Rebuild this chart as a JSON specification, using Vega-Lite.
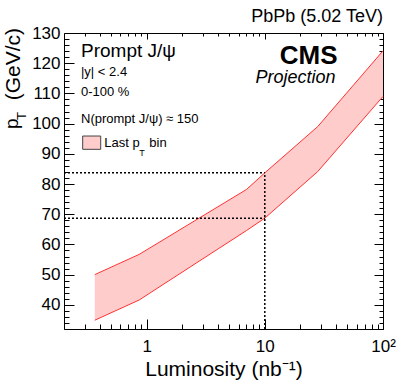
{
  "$schema": "https://vega.github.io/schema/vega-lite/v6.json",
  "width": 319,
  "height": 296,
  "autosize": "none",
  "padding": {"left": 64, "top": 33, "right": 16, "bottom": 54},
  "config": {
    "font": "Liberation Sans",
    "view": {"stroke": "#000", "strokeWidth": 1},
    "axis": {"grid": false, "domain": false, "tickColor": "#000", "tickWidth": 1, "labelColor": "#000", "labelFont": "Liberation Sans", "titleFont": "Liberation Sans"}
  },
  "datasets": {
    "band": [
      {"lumi": 0.364, "lo": 34.9, "hi": 50.0},
      {"lumi": 0.865, "lo": 41.6, "hi": 56.7},
      {"lumi": 7, "lo": 64.6, "hi": 78.2},
      {"lumi": 10, "lo": 68.7, "hi": 83.7},
      {"lumi": 28, "lo": 84.1, "hi": 99.0},
      {"lumi": 100, "lo": 109.0, "hi": 124.1}
    ],
    "guides": [
      {"xa": 0.2, "xb": 10, "ya": 83.7, "yb": 83.7},
      {"xa": 0.2, "xb": 10, "ya": 68.7, "yb": 68.7},
      {"xa": 10, "xb": 10, "ya": 32, "yb": 83.7}
    ]
  },
  "resolve": {"scale": {"x": "shared", "y": "shared"}, "axis": {"x": "independent", "y": "independent"}},
  "layer": [
    {
      "data": {"name": "band"},
      "mark": {"type": "area", "color": "#ffcccc", "opacity": 1},
      "encoding": {
        "x": {"field": "lumi", "type": "quantitative",
          "scale": {"type": "log", "domain": [0.2, 100], "nice": false},
          "axis": {"orient": "bottom", "values": [1, 10, 100], "ticks": false, "labelExpr": "datum.value == 100 ? '10²' : datum.value == 10 ? '10' : '1'", "labelFontSize": 17, "labelPadding": 9, "labelFlush": false, "labelOverlap": false, "labelBound": false,
            "title": "Luminosity (nb⁻¹)", "titleFontSize": 21, "titleFontWeight": "normal", "titleColor": "#000", "titleBaseline": "alphabetic", "titleY": 46}},
        "y": {"field": "lo", "type": "quantitative",
          "scale": {"domain": [32, 130], "nice": false, "zero": false},
          "axis": {"orient": "left", "values": [40, 50, 60, 70, 80, 90, 100, 110, 120, 130], "ticks": false, "labelFontSize": 17, "labelPadding": 4, "labelFlush": false, "labelOverlap": false, "title": null}},
        "y2": {"field": "hi"}
      }
    },
    {
      "data": {"name": "band"},
      "mark": {"type": "line", "color": "#ff3333", "strokeWidth": 1},
      "encoding": {
        "x": {"field": "lumi", "type": "quantitative", "axis": {"orient": "bottom", "values": [1, 10, 100], "labels": false, "tickSize": -10, "title": null}},
        "y": {"field": "hi", "type": "quantitative", "axis": {"orient": "left", "values": [40, 50, 60, 70, 80, 90, 100, 110, 120, 130], "labels": false, "tickSize": -10, "title": null}}
      }
    },
    {
      "data": {"name": "band"},
      "mark": {"type": "line", "color": "#ff3333", "strokeWidth": 1},
      "encoding": {
        "x": {"field": "lumi", "type": "quantitative", "axis": {"orient": "bottom", "values": [0.3, 0.4, 0.5, 0.6, 0.7, 0.8, 0.9, 2, 3, 4, 5, 6, 7, 8, 9, 20, 30, 40, 50, 60, 70, 80, 90], "labels": false, "tickSize": -5, "title": null}},
        "y": {"field": "lo", "type": "quantitative", "axis": {"orient": "left", "values": [32, 34, 36, 38, 42, 44, 46, 48, 52, 54, 56, 58, 62, 64, 66, 68, 72, 74, 76, 78, 82, 84, 86, 88, 92, 94, 96, 98, 102, 104, 106, 108, 112, 114, 116, 118, 122, 124, 126, 128], "labels": false, "tickSize": -5, "title": null}}
      }
    },
    {
      "data": {"name": "guides"},
      "mark": {"type": "rule", "color": "#000", "strokeWidth": 1.5, "strokeDash": [2, 2]},
      "encoding": {
        "x": {"field": "xa", "type": "quantitative", "axis": {"orient": "top", "values": [1, 10, 100], "labels": false, "tickSize": -6, "title": null}},
        "x2": {"field": "xb"},
        "y": {"field": "ya", "type": "quantitative", "axis": {"orient": "right", "values": [40, 50, 60, 70, 80, 90, 100, 110, 120, 130], "labels": false, "tickSize": -9, "title": null}},
        "y2": {"field": "yb"}
      }
    },
    {
      "data": {"values": [{}]},
      "mark": {"type": "rect", "fill": "#ffcccc", "stroke": "#444", "strokeWidth": 1},
      "encoding": {
        "x": {"datum": 0.2878, "type": "quantitative", "axis": {"orient": "top", "values": [0.3, 0.4, 0.5, 0.6, 0.7, 0.8, 0.9, 2, 3, 4, 5, 6, 7, 8, 9, 20, 30, 40, 50, 60, 70, 80, 90], "labels": false, "tickSize": -3, "title": null}},
        "x2": {"datum": 0.4089},
        "y": {"datum": 95.89, "type": "quantitative", "axis": {"orient": "right", "values": [32, 34, 36, 38, 42, 44, 46, 48, 52, 54, 56, 58, 62, 64, 66, 68, 72, 74, 76, 78, 82, 84, 86, 88, 92, 94, 96, 98, 102, 104, 106, 108, 112, 114, 116, 118, 122, 124, 126, 128], "labels": false, "tickSize": -4, "title": null}},
        "y2": {"datum": 91.49}
      }
    },
    {"data": {"values": [{}]}, "mark": {"type": "text", "text": "PbPb (5.02 TeV)", "align": "right", "baseline": "alphabetic", "fontSize": 18, "color": "#000"},
      "encoding": {"x": {"datum": 100, "type": "quantitative", "axis": null}, "y": {"datum": 133.64, "type": "quantitative", "axis": null}}},
    {"data": {"values": [{}]}, "mark": {"type": "text", "text": "CMS", "align": "right", "baseline": "alphabetic", "fontSize": 26, "fontWeight": "bold", "color": "#000"},
      "encoding": {"x": {"datum": 41.2, "type": "quantitative", "axis": null}, "y": {"datum": 119.74, "type": "quantitative", "axis": null}}},
    {"data": {"values": [{}]}, "mark": {"type": "text", "text": "Projection", "align": "right", "baseline": "alphabetic", "fontSize": 18, "fontStyle": "italic", "color": "#000"},
      "encoding": {"x": {"datum": 39.6, "type": "quantitative", "axis": null}, "y": {"datum": 113.35, "type": "quantitative", "axis": null}}},
    {"data": {"values": [{}]}, "mark": {"type": "text", "text": "Prompt J/ψ", "align": "left", "baseline": "alphabetic", "fontSize": 19, "color": "#000"},
      "encoding": {"x": {"datum": 0.2785, "type": "quantitative", "axis": null}, "y": {"datum": 121.95, "type": "quantitative", "axis": null}}},
    {"data": {"values": [{}]}, "mark": {"type": "text", "text": "|y| < 2.4", "align": "left", "baseline": "alphabetic", "fontSize": 13, "color": "#000"},
      "encoding": {"x": {"datum": 0.2785, "type": "quantitative", "axis": null}, "y": {"datum": 115.6, "type": "quantitative", "axis": null}}},
    {"data": {"values": [{}]}, "mark": {"type": "text", "text": "0-100 %", "align": "left", "baseline": "alphabetic", "fontSize": 13, "color": "#000"},
      "encoding": {"x": {"datum": 0.2785, "type": "quantitative", "axis": null}, "y": {"datum": 109.3, "type": "quantitative", "axis": null}}},
    {"data": {"values": [{}]}, "mark": {"type": "text", "text": "N(prompt J/ψ) ≈ 150", "align": "left", "baseline": "alphabetic", "fontSize": 13, "color": "#000"},
      "encoding": {"x": {"datum": 0.2785, "type": "quantitative", "axis": null}, "y": {"datum": 100.1, "type": "quantitative", "axis": null}}},
    {"data": {"values": [{}]}, "mark": {"type": "text", "text": "Last p", "align": "left", "baseline": "alphabetic", "fontSize": 13, "color": "#000"},
      "encoding": {"x": {"datum": 0.4386, "type": "quantitative", "axis": null}, "y": {"datum": 92.1, "type": "quantitative", "axis": null}}},
    {"data": {"values": [{}]}, "mark": {"type": "text", "text": "T", "align": "left", "baseline": "alphabetic", "fontSize": 9, "color": "#000"},
      "encoding": {"x": {"datum": 0.867, "type": "quantitative", "axis": null}, "y": {"datum": 89.2, "type": "quantitative", "axis": null}}},
    {"data": {"values": [{}]}, "mark": {"type": "text", "text": "bin", "align": "left", "baseline": "alphabetic", "fontSize": 13, "color": "#000"},
      "encoding": {"x": {"datum": 1.054, "type": "quantitative", "axis": null}, "y": {"datum": 92.1, "type": "quantitative", "axis": null}}},
    {"data": {"values": [{}]}, "mark": {"type": "text", "text": "(GeV/c)", "align": "right", "baseline": "alphabetic", "angle": 270, "fontSize": 21, "color": "#000"},
      "encoding": {"x": {"datum": 0.08486, "type": "quantitative", "axis": null}, "y": {"datum": 131.66, "type": "quantitative", "axis": null}}},
    {"data": {"values": [{}]}, "mark": {"type": "text", "text": "p", "align": "left", "baseline": "alphabetic", "angle": 270, "fontSize": 19, "color": "#000"},
      "encoding": {"x": {"datum": 0.0824, "type": "quantitative", "axis": null}, "y": {"datum": 98.22, "type": "quantitative", "axis": null}}},
    {"data": {"values": [{}]}, "mark": {"type": "text", "text": "T", "align": "left", "baseline": "alphabetic", "angle": 270, "fontSize": 13, "color": "#000"},
      "encoding": {"x": {"datum": 0.0954, "type": "quantitative", "axis": null}, "y": {"datum": 101.2, "type": "quantitative", "axis": null}}}
  ]
}
